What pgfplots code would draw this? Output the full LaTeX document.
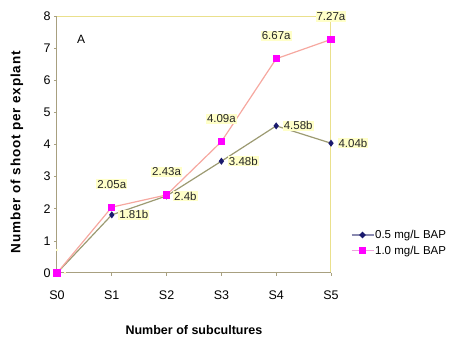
\documentclass[border=0pt]{standalone}
\usepackage{fontspec}
\setmainfont{Liberation Sans}
\usepackage{pgfplots}
\pgfplotsset{compat=1.18}
\definecolor{navyb}{HTML}{1A1A6E}
\definecolor{mag}{HTML}{FF00FF}
\definecolor{lineA}{HTML}{9C9A72}
\definecolor{lineB}{HTML}{F6A8A0}
\definecolor{legA}{HTML}{8A8AB0}
\definecolor{legB}{HTML}{F0A0E0}
\definecolor{boxy}{HTML}{EAE08C}
\definecolor{axc}{HTML}{A8A080}
\definecolor{lab}{HTML}{FFFFC8}
\begin{document}
\begin{tikzpicture}
\path[use as bounding box] (-57pt,-70pt) rectangle (402pt,273pt);
\begin{axis}[
  scale only axis, width=274pt, height=257pt,
  xmin=0, xmax=5, ymin=0, ymax=8,
  clip=false,
  xtick={0,1,2,3,4,5}, xticklabels={S0,S1,S2,S3,S4,S5},
  ytick={0,1,2,3,4,5,6,7,8},
  xtick pos=left, ytick pos=left,
  axis line style={draw=none},
  tick style={draw=axc, line width=0.6pt}, tick align=outside, major tick length=3pt,
  x tick label style={font=\fontsize{12.5}{14}\selectfont, yshift=-11pt},
  y tick label style={font=\fontsize{12.5}{14}\selectfont},
  /pgf/number format/assume math mode=true,
  xlabel={Number of subcultures},
  xlabel style={at={(axis description cs:0.5,-0.222)}, anchor=center, font=\bfseries\fontsize{12.5}{14}\selectfont},
  ylabel={Number of shoot per explant},
  ylabel style={at={(axis description cs:-0.146,0.47)}, anchor=center, font=\bfseries\fontsize{13.5}{15}\selectfont\addfontfeature{LetterSpace=6}},
  legend style={draw=none, fill=none, at={(axis description cs:1.072,0.117)}, anchor=west,
    font=\fontsize{11.5}{13}\selectfont, row sep=4pt, inner sep=0pt,
    nodes={inner sep=1pt}},
  legend cell align=left,
]
\draw[boxy, line width=1pt] (rel axis cs:0,1) -- (rel axis cs:1,1) -- (rel axis cs:1,0);
\draw[axc, line width=1pt] (rel axis cs:0,1) -- (rel axis cs:0,0) -- (rel axis cs:1,0);
\addplot[color=lineA, line width=1.2pt, mark=diamond*, mark size=2.6pt,
  mark options={draw=navyb, fill=navyb},
  point meta=explicit symbolic,
  nodes near coords,
  every node near coord/.style={anchor=west, xshift=6pt, fill=lab, inner sep=1pt, text=black!85, font=\fontsize{11.5}{13}\selectfont},
  legend image code/.code={\draw[legA, line width=1.2pt] (0pt,0pt) -- (22pt,0pt); \fill[navyb] (11pt,2.6pt) -- (13.6pt,0pt) -- (11pt,-2.6pt) -- (8.4pt,0pt) -- cycle;}]
  table[meta=lab] {
x y lab
0 0 {}
1 1.81 1.81b
2 2.40 2.4b
3 3.48 3.48b
4 4.58 4.58b
5 4.04 4.04b
};
\addlegendentry{0.5 mg/L BAP}
\addplot[color=lineB, line width=1.2pt, mark=square*, mark size=3pt,
  mark options={draw=mag, fill=mag},
  point meta=explicit symbolic,
  nodes near coords,
  every node near coord/.style={anchor=center, yshift=23pt, fill=lab, inner sep=1pt, text=black!85, font=\fontsize{11.5}{13}\selectfont},
  legend image code/.code={\draw[legB, line width=1.2pt] (0pt,0pt) -- (22pt,0pt); \fill[mag] (8pt,-3pt) rectangle (14pt,3pt);}]
  table[meta=lab] {
x y lab
0 0 {}
1 2.05 2.05a
2 2.43 2.43a
3 4.09 4.09a
4 6.67 6.67a
5 7.27 7.27a
};
\addlegendentry{1.0 mg/L BAP}
\node[font=\fontsize{12}{14}\selectfont] at (axis cs:0.44,7.26) {A};
\end{axis}
\end{tikzpicture}
\end{document}
